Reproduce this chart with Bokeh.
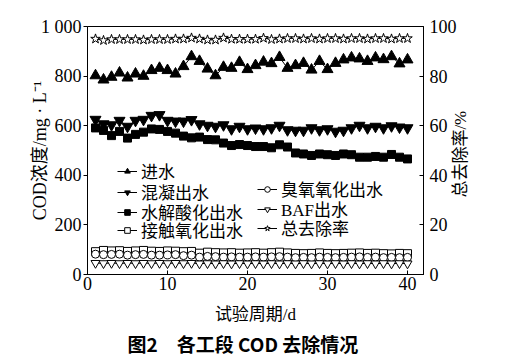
from bokeh.plotting import figure
from bokeh.models import Range1d, LinearAxis, FixedTicker, Legend, LegendItem, Title
from bokeh.embed import file_html
from bokeh.resources import INLINE

days = list(range(1, 41))
influent = [802, 785, 796, 813, 793, 809, 800, 823, 832, 823, 809, 839, 879, 860, 829, 802, 836, 832, 856, 827,
            843, 857, 851, 876, 832, 843, 852, 825, 860, 827, 852, 866, 874, 870, 860, 874, 867, 879, 850, 866]
coagulation = [625, 607, 603, 621, 597, 621, 625, 641, 644, 621, 618, 618, 624, 607, 601, 597, 603, 587, 597, 587,
               590, 587, 591, 601, 583, 581, 581, 591, 583, 587, 577, 581, 591, 601, 591, 597, 591, 599, 594, 591]
hydrolysis = [591, 581, 560, 577, 550, 565, 574, 587, 585, 577, 570, 558, 551, 554, 544, 543, 530, 520, 524, 520,
              516, 516, 511, 523, 514, 490, 486, 480, 486, 483, 480, 486, 483, 473, 473, 476, 473, 484, 473, 466]
contact_ox = [92, 97, 95, 96, 93, 95, 97, 94, 93, 95, 94, 92, 93, 86, 90, 88, 87, 88, 86, 87,
              88, 86, 88, 90, 87, 85, 84, 85, 87, 85, 84, 85, 86, 87, 85, 86, 84, 83, 85, 84]
ozone = [82, 80, 81, 82, 78, 80, 81, 78, 78, 79, 80, 76, 78, 70, 73, 72, 70, 71, 70, 70,
         71, 70, 71, 72, 70, 68, 69, 68, 70, 69, 68, 69, 70, 71, 69, 70, 68, 69, 68, 69]
baf = [46, 45, 46, 45, 46, 45, 46, 45, 46, 45, 46, 45, 46, 44, 45, 44, 45, 44, 45, 44,
       45, 44, 45, 44, 45, 44, 45, 44, 45, 44, 45, 44, 45, 44, 45, 44, 45, 44, 45, 44]
removal = [95.0, 94.4, 94.8, 94.8, 94.8, 94.8, 94.6, 94.8, 94.8, 94.8, 95.0, 95.0, 95.4, 95.0, 94.6, 94.6, 95.4, 94.9, 94.9, 94.9,
           94.9, 95.3, 94.8, 95.0, 95.2, 95.2, 95.0, 95.2, 95.0, 95.2, 95.2, 95.0, 95.2, 95.2, 95.0, 95.2, 95.2, 95.0, 95.2, 95.2]

x_ticks = [0, 10, 20, 30, 40]
left_ticks = [0, 200, 400, 600, 800, 1000]
right_ticks = [0, 20, 40, 60, 80, 100]

left_label = "COD浓度/mg · L⁻¹"
right_label = "总去除率/%"
x_label = "试验周期/d"
caption = "图2　各工段 COD 去除情况"

SERIF = "'Liberation Serif', 'Noto Sans CJK SC', serif"
SANS = "'Noto Sans CJK SC', sans-serif"
FS = "17px"
TFS = "18px"
RIGHT_LABEL_START = 31  # where the rotated right-hand title begins, on the rate scale

p = figure(width=510, height=358, output_backend="svg", toolbar_location=None,
           x_range=Range1d(0, 42), y_range=Range1d(0, 1000),
           min_border_left=87, min_border_right=87, min_border_top=26, min_border_bottom=84)
p.grid.visible = False
p.outline_line_color = "black"
p.outline_line_width = 1
p.background_fill_color = "white"
p.extra_y_ranges = {"rate": Range1d(0, 100)}

xa = p.xaxis[0]
xa.ticker = FixedTicker(ticks=x_ticks)
xa.major_tick_in = 4
xa.major_tick_out = 0
xa.minor_tick_line_color = None
xa.axis_line_color = "black"
xa.major_tick_line_color = "black"
xa.axis_label = x_label
xa.axis_label_text_font = SERIF
xa.axis_label_text_font_style = "normal"
xa.axis_label_text_font_size = FS
xa.axis_label_text_color = "black"
xa.axis_label_standoff = 12
xa.major_label_text_font = SERIF
xa.major_label_text_font_size = TFS
xa.major_label_text_color = "black"
xa.major_label_standoff = 2

ya = p.yaxis[0]
ya.ticker = FixedTicker(ticks=left_ticks)
ya.major_label_overrides = {1000: "1 000"}
ya.major_tick_in = 0
ya.major_tick_out = 4
ya.minor_tick_line_color = None
ya.axis_line_color = "black"
ya.major_tick_line_color = "black"
ya.axis_label = left_label
ya.axis_label_text_font = SERIF
ya.axis_label_text_font_style = "normal"
ya.axis_label_text_font_size = TFS
ya.axis_label_text_color = "black"
ya.axis_label_standoff = -12
ya.major_label_text_font = SERIF
ya.major_label_text_font_size = TFS
ya.major_label_text_color = "black"
ya.major_label_standoff = 2

ra = LinearAxis(y_range_name="rate", ticker=FixedTicker(ticks=right_ticks))
ra.major_tick_in = 4
ra.major_tick_out = 0
ra.minor_tick_line_color = None
ra.axis_line_color = "black"
ra.major_tick_line_color = "black"
ra.major_label_text_font = SERIF
ra.major_label_text_font_size = TFS
ra.major_label_text_color = "black"
ra.major_label_standoff = 6
p.add_layout(ra, "right")

# second right-hand axis that only carries the rotated title (reads bottom to top)
ta = LinearAxis(y_range_name="rate", ticker=FixedTicker(ticks=[RIGHT_LABEL_START]))
ta.major_label_overrides = {RIGHT_LABEL_START: right_label}
ta.major_label_orientation = 1.5707963
ta.major_tick_in = 0
ta.major_tick_out = 0
ta.major_tick_line_color = None
ta.minor_tick_line_color = None
ta.axis_line_color = None
ta.major_label_text_font = SERIF
ta.major_label_text_font_size = FS
ta.major_label_text_color = "black"
ta.major_label_standoff = 1
p.add_layout(ta, "right")


def series(y, marker, size, fill, rng=None):
    kw = {} if rng is None else {"y_range_name": rng}
    ln = p.line(days, y, line_color="black", line_width=1, **kw)
    sc = p.scatter(days, y, marker=marker, size=size, line_color="black",
                   fill_color=fill, line_width=1, **kw)
    return [ln, sc]


r_in = series(influent, "triangle", 11, "black")
r_co = series(coagulation, "inverted_triangle", 11, "black")
r_hy = series(hydrolysis, "square", 8, "black")
r_ct = series(contact_ox, "square", 8, "white")
r_oz = series(ozone, "circle", 8, "white")
r_baf = series(baf, "inverted_triangle", 9, "white")
r_rm = series(removal, "star", 10, "white", "rate")


def legend_row(label, renderers, loc):
    lg = Legend(items=[LegendItem(label=label, renderers=renderers)], location=loc,
                background_fill_alpha=0, border_line_alpha=0, padding=0, margin=0,
                spacing=0, glyph_width=20, glyph_height=14, label_height=14,
                label_standoff=4, label_text_font=SERIF, label_text_font_size=FS,
                label_text_color="black")
    p.add_layout(lg, "center")


legend_row("进水", r_in, (30, 91))
legend_row("混凝出水", r_co, (30, 70))
legend_row("水解酸化出水", r_hy, (30, 50))
legend_row("接触氧化出水", r_ct, (30, 32))
legend_row("臭氧氧化出水", r_oz, (170, 73))
legend_row("BAF出水", r_baf, (170, 53))
legend_row("总去除率", r_rm, (170, 34))

cap = Title(text=caption, align="left", offset=40, standoff=3,
            text_font=SANS, text_font_size="19px", text_font_style="bold", text_color="black")
p.add_layout(cap, "below")

open("out.html", "w").write(file_html(p, INLINE))
